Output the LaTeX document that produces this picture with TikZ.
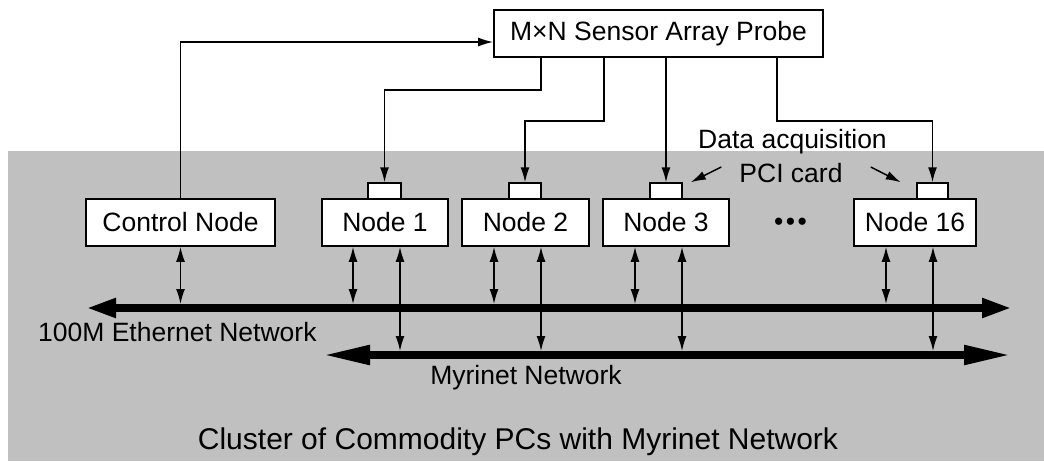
\documentclass[tikz,border=0pt]{standalone}
\usepackage{fontspec}
\setmainfont{Liberation Sans}
\usetikzlibrary{arrows.meta}
\definecolor{bggray}{RGB}{192,192,192}
\tikzset{
  lbl/.style={inner sep=0pt, font=\fontsize{26.5}{30}\selectfont},
  box/.style={draw, fill=white, line width=1.7pt, inner sep=0pt, minimum height=47pt, font=\fontsize{26.5}{30}\selectfont},
  card/.style={draw, fill=white, line width=1.5pt, inner sep=0pt, minimum height=16pt},
  sig/.style={line width=1.5pt, -{Latex[length=15pt,width=9pt]}},
  dbl/.style={line width=1.5pt, {Latex[length=15pt,width=9pt]}-{Latex[length=15pt,width=9pt]}},
  ebus/.style={line width=8pt, {Triangle[length=30pt,width=18pt]}-{Triangle[length=30pt,width=18pt]}},
  mbus/.style={line width=8pt, {Triangle[length=48pt,width=18pt]}-{Triangle[length=48pt,width=18pt]}}
}
\begin{document}
\begin{tikzpicture}[x=1pt,y=-1pt]
\useasboundingbox (0,0) rectangle (1044,461);
\fill[white] (0,0) rectangle (1044,461);
\fill[bggray] (8,151) rectangle (1044,461);

% nodes
\node[box, minimum width=329pt] (probe) at (658.5,33.5) {M×N Sensor Array Probe};
\node[box, minimum width=189pt] (ctrl) at (180.5,222.5) {Control Node};
\node[box, minimum width=126pt] (n1) at (385,222.5) {Node 1};
\node[box, minimum width=127pt] (n2) at (525.5,222.5) {Node 2};
\node[box, minimum width=126pt] (n3) at (666,222.5) {Node 3};
\node[box, minimum width=122pt] (n16) at (915,222.5) {Node 16};
\node[card, minimum width=33pt] (c1) at (384.5,191) {};
\node[card, minimum width=32pt] (c2) at (525,191) {};
\node[card, minimum width=32pt] (c3) at (666,191) {};
\node[card, minimum width=31pt] (c16) at (932.5,191) {};
\node[lbl] (dots) at (790.5,224) {•\kern2.5pt•\kern2.5pt•};

% labels
\node[lbl] (daq) at (792.5,142) {Data acquisition};
\node[lbl] (pci) at (791,173) {PCI card};
\node[lbl, anchor=west] (eth) at (38,332) {100M Ethernet Network};
\node[lbl] (myr) at (526,378) {Myrinet Network};
\node[lbl, font=\fontsize{30}{34}\selectfont] (cl) at (518,442) {Cluster of Commodity PCs with Myrinet Network};

% buses
\coordinate (eL) at (86,308);
\coordinate (eR) at (1012,308);
\coordinate (mL) at (322,355);
\coordinate (mR) at (1012,355);
\coordinate (etop) at (0,304);
\coordinate (mtop) at (0,351);
\draw[ebus] (eL) -- (eR);
\draw[mbus] (mL) -- (mR);

% probe connections
\draw[sig] (ctrl.north) |- ([yshift=-8.5pt]probe.west);
\draw[sig] ([xshift=-117.5pt]probe.south) -- ++(0,32) -| (c1.north);
\draw[sig] ([xshift=-54.5pt]probe.south) -- ++(0,63) -| (c2.north);
\draw[sig] (probe.south -| c3.north) -- (c3.north);
\draw[sig] ([xshift=118.5pt]probe.south) -- ++(0,63) -| (c16.north);

% PCI card pointers
\draw[sig] ([xshift=-18pt,yshift=6pt]pci.west) -- ([xshift=8pt]c3.north east);
\draw[sig] ([xshift=28pt,yshift=6pt]pci.east) -- ([xshift=-15.5pt]c16.north west);

% network connections
\draw[dbl] (ctrl.south) -- (ctrl.south |- etop);
\draw[dbl] ([xshift=-32pt]n1.south) coordinate (a1) -- (a1 |- etop);
\draw[dbl] ([xshift=15pt]n1.south) coordinate (b1) -- (b1 |- mtop);
\draw[dbl] ([xshift=-31.5pt]n2.south) coordinate (a2) -- (a2 |- etop);
\draw[dbl] ([xshift=15.5pt]n2.south) coordinate (b2) -- (b2 |- mtop);
\draw[dbl] ([xshift=-31pt]n3.south) coordinate (a3) -- (a3 |- etop);
\draw[dbl] ([xshift=16pt]n3.south) coordinate (b3) -- (b3 |- mtop);
\draw[dbl] ([xshift=-29pt]n16.south) coordinate (a16) -- (a16 |- etop);
\draw[dbl] ([xshift=18pt]n16.south) coordinate (b16) -- (b16 |- mtop);
\end{tikzpicture}
\end{document}
